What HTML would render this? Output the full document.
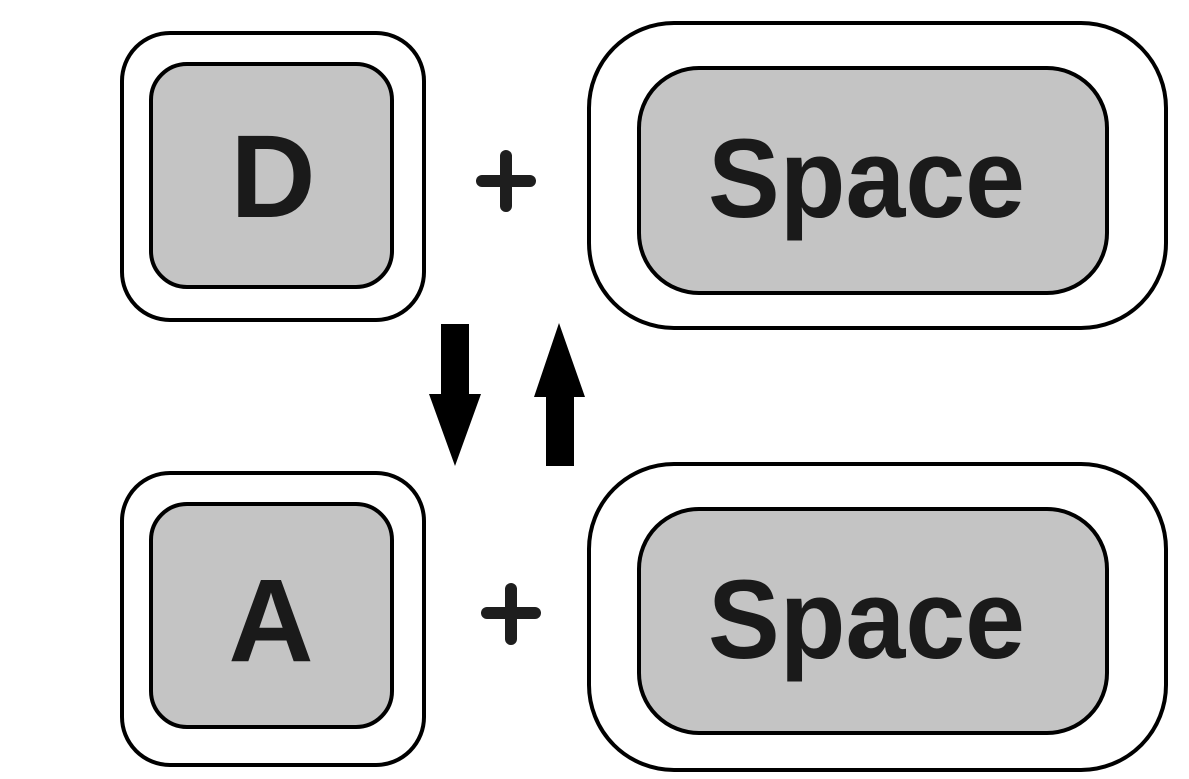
<!DOCTYPE html>
<html><head><style>html,body{margin:0;padding:0;background:#fff}svg{display:block}</style></head>
<body>
<svg width="1189" height="779" viewBox="0 0 1189 779" xmlns="http://www.w3.org/2000/svg">
<g fill="none" stroke="#000" stroke-width="4">
<rect x="122" y="33" width="302" height="287" rx="48"/>
<rect x="589" y="23" width="577" height="305" rx="85"/>
<rect x="122" y="473" width="302" height="292" rx="48"/>
<rect x="589" y="464" width="577" height="306" rx="85"/>
</g>
<g fill="#c4c4c4" stroke="#000" stroke-width="4">
<rect x="151" y="64" width="241" height="223" rx="36"/>
<rect x="639" y="68" width="468" height="225" rx="60"/>
<rect x="151" y="504" width="241" height="223" rx="36"/>
<rect x="639" y="509" width="468" height="224" rx="60"/>
</g>
<g font-family="Liberation Sans, sans-serif" font-weight="bold" fill="#1a1a1a">
<text x="273" y="217" font-size="118" text-anchor="middle">D</text>
<text x="708" y="217" font-size="112" textLength="317" lengthAdjust="spacingAndGlyphs">Space</text>
<text x="271" y="661" font-size="118" text-anchor="middle">A</text>
<text x="708" y="658" font-size="112" textLength="317" lengthAdjust="spacingAndGlyphs">Space</text>
</g>
<g stroke="#1e1e1e" stroke-width="12" stroke-linecap="round">
<line x1="482" y1="181" x2="530" y2="181"/><line x1="506" y1="156" x2="506" y2="206"/>
<line x1="487" y1="613" x2="535" y2="613"/><line x1="511" y1="589" x2="511" y2="639"/>
</g>
<g fill="#000">
<polygon points="441,324 469,324 469,394 481,394 455,466 429,394 441,394"/>
<polygon points="559,323 585,397 574,397 574,466 546,466 546,397 534,397"/>
</g>
</svg>
</body></html>
